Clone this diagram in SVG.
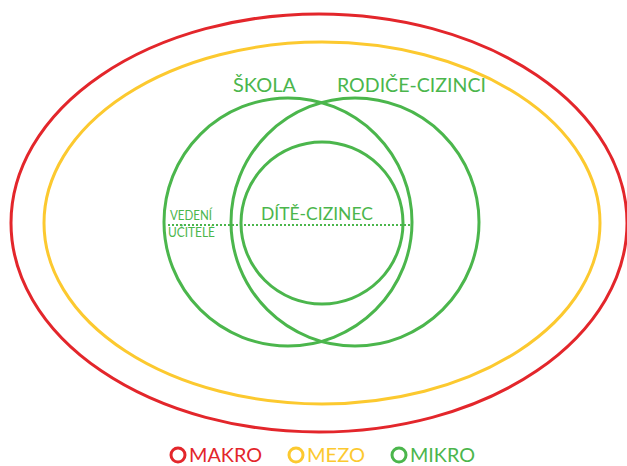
<svg xmlns="http://www.w3.org/2000/svg" width="627" height="466" viewBox="0 0 627 466">
<style>
.r{fill:none;stroke:#e3262b;stroke-width:3}
.y{fill:none;stroke:#fcc92f;stroke-width:3}
.g{fill:none;stroke:#4bb64c;stroke-width:3}
text{font-family:Lato,"Open Sans",sans-serif}
.gt{fill:#4bb64c}
</style>
<rect width="627" height="466" fill="#fff"/>
<g id="makro"><ellipse class="r" cx="319" cy="223" rx="308" ry="209"/></g>
<g id="mezo"><ellipse class="y" cx="322" cy="223" rx="278" ry="181"/></g>
<g id="skola"><circle class="g" cx="288" cy="222" r="124"/><text class="gt" x="233" y="92" font-size="19.5" textLength="63" lengthAdjust="spacingAndGlyphs">ŠKOLA</text></g>
<g id="rodice"><circle class="g" cx="355" cy="222" r="124"/><text class="gt" x="337" y="92" font-size="19.5" textLength="149" lengthAdjust="spacingAndGlyphs">RODIČE-CIZINCI</text></g>
<g id="dite"><circle class="g" cx="322" cy="223" r="81"/><text class="gt" x="261" y="220" font-size="16.5" textLength="112" lengthAdjust="spacingAndGlyphs">DÍTĚ-CIZINEC</text></g>
<g id="connectors"><line x1="168" y1="225" x2="411" y2="225" stroke="#4bb64c" stroke-width="2" stroke-dasharray="2,2"/></g>
<g id="vedeni"><text class="gt" font-size="13"><tspan x="170" y="220" textLength="42" lengthAdjust="spacingAndGlyphs">VEDENÍ</tspan><tspan x="168" y="237" textLength="47" lengthAdjust="spacingAndGlyphs">UČITELÉ</tspan></text></g>
<g id="legend">
<circle cx="178" cy="455" r="7" fill="none" stroke="#e3262b" stroke-width="3"/>
<text x="189" y="462" font-size="19" fill="#e3262b" textLength="73" lengthAdjust="spacingAndGlyphs">MAKRO</text>
<circle cx="296" cy="455" r="7" fill="none" stroke="#fcc92f" stroke-width="3"/>
<text x="307" y="462" font-size="19" fill="#fcc92f" textLength="58" lengthAdjust="spacingAndGlyphs">MEZO</text>
<circle cx="399" cy="455" r="7" fill="none" stroke="#4bb64c" stroke-width="3"/>
<text x="410" y="462" font-size="19" fill="#4bb64c" textLength="65" lengthAdjust="spacingAndGlyphs">MIKRO</text>
</g>
</svg>
